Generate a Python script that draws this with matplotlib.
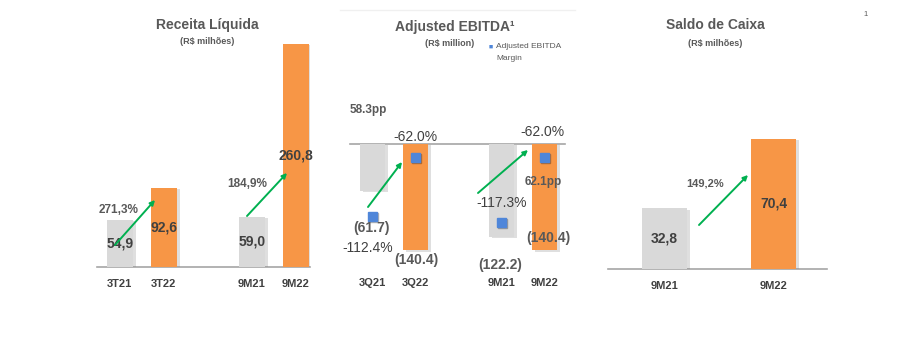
import matplotlib
matplotlib.use("Agg")
import matplotlib.pyplot as plt
import matplotlib.patheffects as pe

plt.rcParams['font.family'] = ['Liberation Sans', 'DejaVu Sans']

# dados
receita_cat = ['3T21', '3T22', '9M21', '9M22']
receita_val = [54.9, 92.6, 59.0, 260.8]
receita_lbl = ['54,9', '92,6', '59,0', '260,8']
receita_var = ['271,3%', '184,9%']

ebitda_cat = ['3Q21', '3Q22', '9M21', '9M22']
ebitda_val = [-61.7, -140.4, -122.2, -140.4]
ebitda_lbl = ['(61.7)', '(140.4)', '(122.2)', '(140.4)']
margem_val = [-112.4, -62.0, -117.3, -62.0]
margem_lbl = ['-112.4%', '-62.0%', '-117.3%', '-62.0%']
margem_pp = ['58.3pp', '62.1pp']

caixa_cat = ['9M21', '9M22']
caixa_val = [32.8, 70.4]
caixa_lbl = ['32,8', '70,4']
caixa_var = ['149,2%']

W, H = 911, 353
CINZA = '#D9D9D9'
LARANJA = '#F79646'
VERDE = '#00B050'
AZUL = '#4F86D9'
TXT = '#404040'
TXT2 = '#595959'
cores = [CINZA, LARANJA, CINZA, LARANJA]

fig = plt.figure(figsize=(W / 100, H / 100), dpi=100)
fig.patch.set_facecolor('white')


def box(x0, y0, x1, y1):
    return [x0 / W, 1 - y1 / H, (x1 - x0) / W, (y1 - y0) / H]


def txt(x, y, s, **kw):
    fig.text(x / W, 1 - y / H, s, ha='center', va='center', **kw)


def seta(x0, y0, x1, y1):
    fig.add_artist(matplotlib.patches.FancyArrowPatch(
        (x0 / W, 1 - y0 / H), (x1 / W, 1 - y1 / H), transform=fig.transFigure,
        arrowstyle='-|>', mutation_scale=7, color=VERDE, lw=1.4,
        shrinkA=0, shrinkB=0))


sombra = [pe.SimplePatchShadow(offset=(2, -1), shadow_rgbFace='#808080', alpha=0.25), pe.Normal()]


def barras(ax, pos, vals, larg, cs):
    bs = ax.bar(pos, vals, width=larg, color=cs, zorder=2)
    for b in bs:
        b.set_path_effects(sombra)
    ax.axhline(0, color='#A6A6A6', lw=1.2, clip_on=False, zorder=1)
    ax.axis('off')


# ---- Receita Liquida
pos1 = [0, 1, 3, 4]
ax1 = fig.add_axes(box(97, 36, 310, 267))
barras(ax1, pos1, receita_val, 0.59, cores)
ax1.set_xlim(-0.52, 4.32)
ax1.set_ylim(0, 270)
for p, v, l, c in zip(pos1, receita_val, receita_lbl, receita_cat):
    ax1.text(p, v / 2, l, ha='center', va='center', fontsize=10, fontweight='bold', color=TXT, zorder=4)
    ax1.annotate(c, (p, 0), xytext=(0, -12), textcoords='offset points',
                 ha='center', va='center', fontsize=8, fontweight='bold', color=TXT)
seta(115, 245, 155, 200)
seta(247, 216, 287, 173)
txt(119, 210, receita_var[0], fontsize=8.5, fontweight='bold', color=TXT2)
txt(247, 184, receita_var[1], fontsize=8.5, fontweight='bold', color=TXT2)
txt(207, 25, 'Receita Líquida', fontsize=10, fontweight='bold', color=TXT2)
txt(207, 42, '(R$ milhões)', fontsize=6.5, fontweight='bold', color=TXT2)

# ---- Adjusted EBITDA
pos2 = [0, 1, 3, 4]
ax2 = fig.add_axes(box(350, 70, 565, 260))
barras(ax2, pos2, ebitda_val, 0.58, cores)
ax2.set_xlim(-0.52, 4.48)
ax2.set_ylim(-(260 - 144) * 1.32, (144 - 70) * 1.32)
ax2b = ax2.twinx()
ax2b.plot(pos2, margem_val, 's', color=AZUL, markersize=6.5, zorder=5,
          path_effects=[pe.SimpleLineShadow(offset=(1, -1), alpha=0.3), pe.Normal()])
ax2b.set_ylim(-(260 - 85) / 1.17, (85 - 70) / 1.17)
ax2b.axis('off')
for p, c in zip(pos2, ebitda_cat):
    ax2.annotate(c, (p, 0), xytext=(0, -(283 - 144) * 0.72), textcoords='offset points',
                 ha='center', va='center', fontsize=8, fontweight='bold', color=TXT)
seta(368, 207, 402, 162)
seta(478, 193, 528, 150)
txt(372, 228, ebitda_lbl[0], fontsize=10, fontweight='bold', color=TXT2)
txt(416, 260, ebitda_lbl[1], fontsize=10, fontweight='bold', color=TXT2)
txt(500, 265, ebitda_lbl[2], fontsize=10, fontweight='bold', color=TXT2)
txt(548, 238, ebitda_lbl[3], fontsize=10, fontweight='bold', color=TXT2, zorder=6)
txt(368, 248, margem_lbl[0], fontsize=10, color=TXT)
txt(415, 137, margem_lbl[1], fontsize=10, color=TXT)
txt(502, 203, margem_lbl[2], fontsize=10, color=TXT)
txt(542, 132, margem_lbl[3], fontsize=10, color=TXT)
txt(368, 110, margem_pp[0], fontsize=8.5, fontweight='bold', color=TXT2)
txt(543, 182, margem_pp[1], fontsize=8.5, fontweight='bold', color=TXT2, zorder=6)
txt(455, 27, 'Adjusted EBITDA¹', fontsize=10, fontweight='bold', color=TXT2)
txt(450, 44, '(R$ million)', fontsize=6.5, fontweight='bold', color=TXT2)
fig.text(491 / W, 1 - 47 / H, '■', fontsize=5, color=AZUL, ha='center', va='center')
fig.text(496 / W, 1 - 47 / H, 'Adjusted EBITDA', fontsize=6, color=TXT2, ha='left', va='center')
fig.text(496 / W, 1 - 58 / H, 'Margin', fontsize=6, color=TXT2, ha='left', va='center')
fig.add_artist(matplotlib.lines.Line2D([340 / W, 575 / W], [1 - 10 / H, 1 - 10 / H],
                                       transform=fig.transFigure, color='#F0F0F0', lw=1))

# ---- Saldo de Caixa
pos3 = [0, 1]
ax3 = fig.add_axes(box(608, 120, 827, 269))
barras(ax3, pos3, caixa_val, 0.41, [CINZA, LARANJA])
ax3.set_xlim(-0.52, 1.49)
ax3.set_ylim(0, (269 - 120) * 0.5415)
for p, v, l, c in zip(pos3, caixa_val, caixa_lbl, caixa_cat):
    ax3.text(p, v / 2, l, ha='center', va='center', fontsize=10, fontweight='bold', color=TXT, zorder=4)
    ax3.annotate(c, (p, 0), xytext=(0, -12), textcoords='offset points',
                 ha='center', va='center', fontsize=8, fontweight='bold', color=TXT)
seta(699, 225, 748, 175)
txt(705, 183, caixa_var[0], fontsize=8, fontweight='bold', color=TXT2)
txt(715, 25, 'Saldo de Caixa', fontsize=10, fontweight='bold', color=TXT2)
txt(715, 43, '(R$ milhões)', fontsize=6.5, fontweight='bold', color=TXT2)
txt(866, 15, '1', fontsize=5.5, color=TXT2)

fig.savefig('out.png', dpi=100, facecolor='white')
